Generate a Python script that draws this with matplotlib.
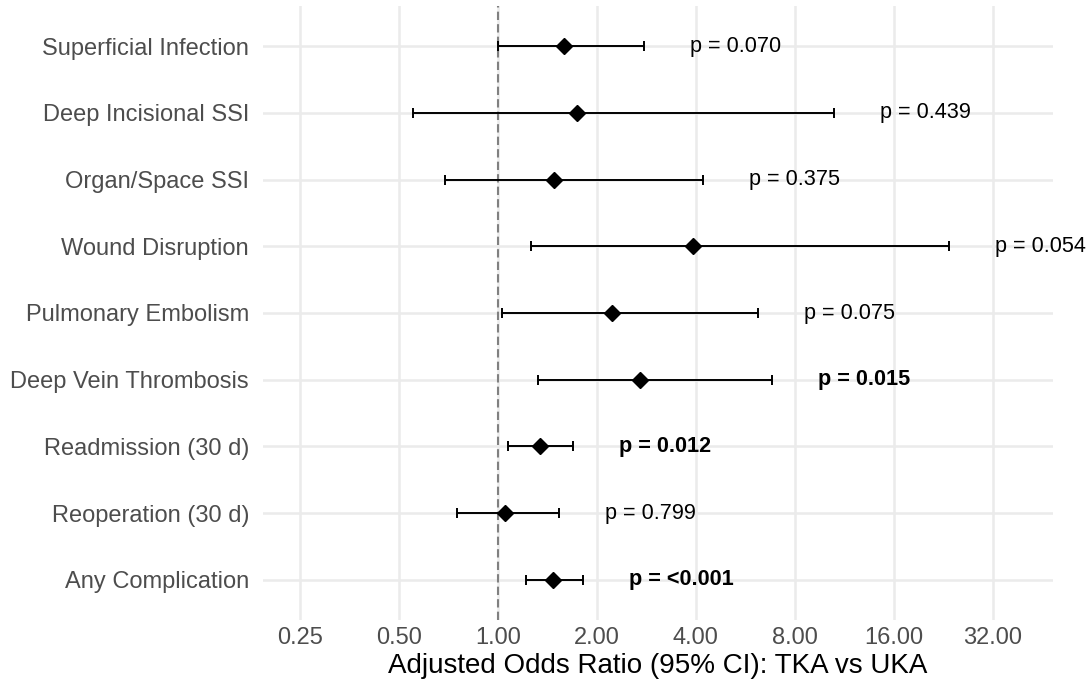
import numpy as np
import matplotlib
matplotlib.use("Agg")
import matplotlib.pyplot as plt
from matplotlib.ticker import FixedLocator, FixedFormatter, NullLocator

# outcomes, top to bottom
outcomes = ["Superficial Infection", "Deep Incisional SSI", "Organ/Space SSI",
            "Wound Disruption", "Pulmonary Embolism", "Deep Vein Thrombosis",
            "Readmission (30 d)", "Reoperation (30 d)", "Any Complication"]
odds_ratio = [1.59, 1.74, 1.48, 3.92, 2.23, 2.70, 1.34, 1.05, 1.47]
ci_low = [1.00, 0.55, 0.69, 1.26, 1.03, 1.32, 1.07, 0.75, 1.22]
ci_high = [2.79, 10.5, 4.21, 23.6, 6.19, 6.82, 1.69, 1.53, 1.82]
p_labels = ["p = 0.070", "p = 0.439", "p = 0.375", "p = 0.054", "p = 0.075",
            "p = 0.015", "p = 0.012", "p = 0.799", "p = <0.001"]
significant = [False, False, False, False, False, True, True, False, True]

x_ticks = [0.25, 0.5, 1, 2, 4, 8, 16, 32]
x_tick_labels = ["0.25", "0.50", "1.00", "2.00", "4.00", "8.00", "16.00", "32.00"]

plt.rcParams['font.family'] = ['Liberation Sans', 'DejaVu Sans']

fig = plt.figure(figsize=(10.88, 6.92), dpi=100)
ax = fig.add_axes([263 / 1088, 1 - 620 / 692, (1053 - 263) / 1088, 614 / 692])

n = len(outcomes)
ypos = np.arange(n, 0, -1)

ax.set_xscale("log", base=2)
ax.set_xlim(0.193, 48.8)
ax.set_ylim(0.4, n + 0.6)

# grid
for xt in x_ticks:
    ax.axvline(xt, color="#ebebeb", lw=1.8, zorder=0)
for y in ypos:
    ax.axhline(y, color="#ebebeb", lw=1.8, zorder=0)

ax.axvline(1, color="#808080", lw=1.5, ls=(0, (4, 2)), zorder=1)

lo = np.array(odds_ratio) - np.array(ci_low)
hi = np.array(ci_high) - np.array(odds_ratio)
ax.errorbar(odds_ratio, ypos, xerr=[lo, hi], fmt="none", ecolor="black",
            elinewidth=1.4, capsize=3.6, capthick=1.4, zorder=2)
ax.plot(odds_ratio, ypos, "D", color="black", markersize=8.5, zorder=3)

for y, h, lab, sig in zip(ypos, ci_high, p_labels, significant):
    ax.text(h * 1.38, y, lab, ha="left", va="center", fontsize=15.6,
            fontweight="bold" if sig else "normal", color="black")

ax.xaxis.set_major_locator(FixedLocator(x_ticks))
ax.xaxis.set_major_formatter(FixedFormatter(x_tick_labels))
ax.xaxis.set_minor_locator(NullLocator())
ax.set_yticks(ypos)
ax.set_yticklabels(outcomes)
ax.tick_params(axis="both", length=0, labelsize=17, labelcolor="#4d4d4d")
ax.tick_params(axis="y", pad=10)
ax.tick_params(axis="x", pad=5)
for s in ax.spines.values():
    s.set_visible(False)

ax.set_xlabel("Adjusted Odds Ratio (95% CI): TKA vs UKA", fontsize=20, labelpad=3)

fig.savefig("out.png", dpi=100)
